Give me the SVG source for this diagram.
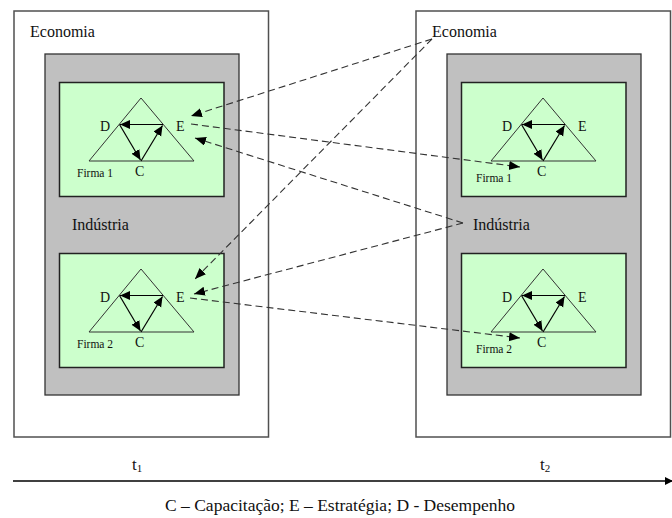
<svg xmlns="http://www.w3.org/2000/svg" width="672" height="518" viewBox="0 0 672 518" font-family="'Liberation Serif', 'DejaVu Serif', serif">
  <style>
    .outer { fill: #ffffff; stroke: #505050; stroke-width: 1.5; }
    .ind { fill: #c0c0c0; stroke: #333333; stroke-width: 1.3; }
    .firm { fill: #ccffcc; stroke: #222222; stroke-width: 1.5; }
    .tri { fill: none; stroke: #333333; stroke-width: 1; }
    .rel { fill: none; stroke: #000000; stroke-width: 1.2; marker-end: url(#solid); }
    .link { fill: none; stroke: #333333; stroke-width: 1.1; stroke-dasharray: 7 4; marker-end: url(#head); }
    text { font-family: 'Liberation Serif', 'DejaVu Serif', serif; fill: #111111; }
    .big { font-size: 16px; }
    .vtx { font-size: 14px; }
    .small { font-size: 11.5px; }
  </style>
  <defs>
    <marker id="head" markerUnits="userSpaceOnUse" markerWidth="12" markerHeight="10" refX="11" refY="4.5" orient="auto">
      <path d="M0,0 L11,4.5 L0,9 z" fill="#000"/>
    </marker>
    <marker id="solid" markerUnits="userSpaceOnUse" markerWidth="11" markerHeight="10" refX="10" refY="4.5" orient="auto">
      <path d="M0,0 L10,4.5 L0,9 z" fill="#000"/>
    </marker>
    <!-- one firm: green panel with the D/E/C triangle -->
    <g id="firmTpl">
      <rect class="firm" x="59.5" y="82.5" width="164.5" height="114"/>
      <path class="tri" d="M141,98 L89,161 L194,161 Z"/>
      <line class="rel" x1="163" y1="124.5" x2="120" y2="124.5"/>
      <line class="rel" x1="119.5" y1="124.5" x2="140.5" y2="160"/>
      <line class="rel" x1="141" y1="161" x2="162.5" y2="125.5"/>
      <text class="vtx" x="100" y="131">D</text>
      <text class="vtx" x="176" y="131">E</text>
      <text class="vtx" x="135" y="176">C</text>
    </g>
  </defs>

  <!-- time t1 -->
  <g id="economia-t1">
    <rect class="outer" x="14" y="11" width="254.5" height="426"/>
    <text class="big" x="30" y="37">Economia</text>
  </g>
  <g id="industria-t1">
    <rect class="ind" x="45" y="54" width="194" height="341"/>
    <text class="big" x="72" y="230">Indústria</text>
  </g>
  <g id="firma1-t1">
    <use href="#firmTpl"/>
    <text class="small" x="77" y="177">Firma 1</text>
  </g>
  <g id="firma2-t1">
    <use href="#firmTpl" transform="translate(0,171)"/>
    <text class="small" x="77" y="348">Firma 2</text>
  </g>

  <!-- time t2 -->
  <g id="economia-t2">
    <rect class="outer" x="416" y="11" width="254.5" height="426"/>
    <text class="big" x="432" y="37">Economia</text>
  </g>
  <g id="industria-t2">
    <rect class="ind" x="447" y="54" width="194" height="341"/>
    <text class="big" x="473" y="230">Indústria</text>
  </g>
  <g id="firma1-t2">
    <use href="#firmTpl" transform="translate(402,0)"/>
    <text class="small" x="476" y="182">Firma 1</text>
  </g>
  <g id="firma2-t2">
    <use href="#firmTpl" transform="translate(402,171)"/>
    <text class="small" x="476" y="353">Firma 2</text>
  </g>

  <!-- dashed influence links -->
  <g id="connectors">
    <line class="link" x1="432" y1="39" x2="191" y2="116"/>
    <line class="link" x1="432" y1="39" x2="195" y2="279"/>
    <line class="link" x1="191" y1="124" x2="520" y2="167"/>
    <line class="link" x1="463" y1="223" x2="195" y2="138"/>
    <line class="link" x1="463" y1="223" x2="194" y2="294"/>
    <line class="link" x1="190" y1="298" x2="520" y2="338"/>
  </g>

  <!-- time axis -->
  <g id="axis">
    <line x1="13" y1="481" x2="672" y2="481" stroke="#000" stroke-width="1.5"/>
    <path d="M665,477 L673,481 L665,485 z" fill="#000"/>
    <text x="132" y="470" font-size="17">t<tspan font-size="11" dy="2">1</tspan></text>
    <text x="540" y="470" font-size="17">t<tspan font-size="11" dy="2">2</tspan></text>
    <text class="big" x="340" y="511" text-anchor="middle" textLength="350" lengthAdjust="spacingAndGlyphs">C – Capacitação; E – Estratégia; D - Desempenho</text>
  </g>
</svg>
